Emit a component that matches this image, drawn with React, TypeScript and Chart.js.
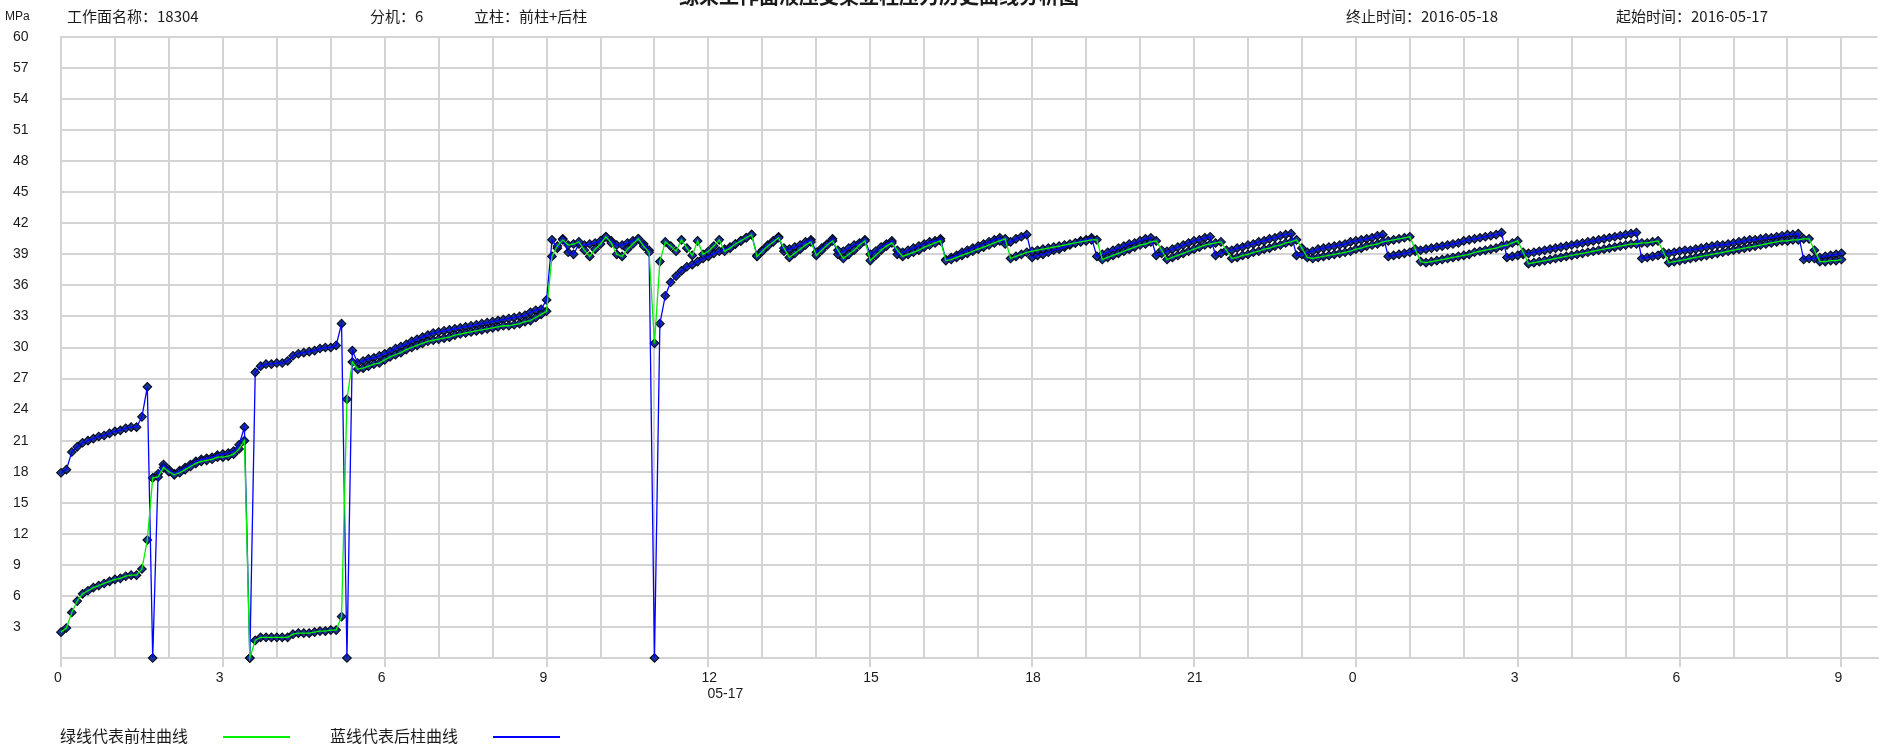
import React, { useEffect, useRef } from 'react';
import { Chart, registerables } from 'chart.js';

Chart.register(...registerables);

// sampling of the readings (hours from 0:00 on 05-17)
const SAMPLE_START_H = 0;
const SAMPLE_STEP_H = 0.1;
const X_MIN_H = 0;
const X_MAX_H = 33.67;

// 后柱 (blue) pressure, MPa, one value per sample
const REAR_MPA = [
  17.9, 18.2, 19.9, 20.4, 20.8, 21.0, 21.2, 21.4, 21.5, 21.7,
  21.9, 22.0, 22.2, 22.3, 22.3, 23.3, 26.2, 0, 17.8, 18.7,
  18.2, 17.8, 18.1, 18.4, 18.7, 19.0, 19.2, 19.3, 19.4, 19.6,
  19.7, 19.8, 20.0, 20.6, 22.3, 0, 27.6, 28.2, 28.4, 28.4,
  28.5, 28.5, 28.7, 29.2, 29.4, 29.5, 29.6, 29.7, 29.9, 30.0,
  30.0, 30.2, 32.3, 0, 29.7, 28.5, 28.7, 28.9, 29.0, 29.2,
  29.4, 29.6, 29.9, 30.1, 30.3, 30.6, 30.8, 31.0, 31.2, 31.4,
  31.5, 31.6, 31.7, 31.8, 31.9, 32.0, 32.1, 32.2, 32.3, 32.4,
  32.5, 32.6, 32.7, 32.8, 32.9, 33.0, 33.1, 33.4, 33.6, 33.7,
  34.6, 40.4, 39.6, 40.5, 39.2, 39.0, 40.0, 39.9, 40.0, 40.1,
  40.3, 40.7, 40.3, 39.9, 39.9, 40.1, 40.3, 40.5, 40.0, 39.4,
  0, 32.3, 35.0, 36.3, 36.9, 37.4, 37.8, 38.0, 38.3, 38.6,
  38.8, 39.1, 39.3, 39.5, 39.7, 40.0, 40.3, 40.6, 40.9, 38.9,
  39.4, 39.9, 40.3, 40.7, 39.3, 39.5, 39.7, 39.9, 40.2, 40.4,
  39.2, 39.6, 40.0, 40.5, 39.0, 39.3, 39.6, 39.9, 40.1, 40.4,
  39.0, 39.3, 39.7, 40.0, 40.3, 39.0, 39.2, 39.4, 39.6, 39.8,
  40.0, 40.2, 40.3, 40.5, 38.5, 38.7, 38.9, 39.2, 39.4, 39.6,
  39.8, 40.0, 40.2, 40.4, 40.6, 40.0, 40.2, 40.5, 40.7, 40.9,
  38.7, 38.9, 39.0, 39.2, 39.4, 39.5, 39.7, 39.9, 40.1, 40.3,
  40.4, 40.6, 38.8, 39.0, 39.2, 39.4, 39.6, 39.8, 40.0, 40.1,
  40.3, 40.5, 40.6, 38.9, 39.1, 39.3, 39.5, 39.7, 39.9, 40.1,
  40.3, 40.4, 40.6, 40.7, 38.9, 39.1, 39.3, 39.4, 39.6, 39.7,
  39.9, 40.0, 40.2, 40.3, 40.5, 40.6, 40.8, 40.9, 41.0, 38.9,
  39.0, 39.2, 39.3, 39.5, 39.6, 39.7, 39.8, 39.9, 40.0, 40.2,
  40.3, 40.4, 40.5, 40.6, 40.8, 40.9, 38.8, 38.9, 39.0, 39.1,
  39.2, 39.3, 39.4, 39.5, 39.6, 39.7, 39.8, 39.9, 40.0, 40.1,
  40.3, 40.4, 40.5, 40.6, 40.7, 40.8, 40.9, 41.1, 38.7, 38.8,
  38.9, 39.0, 39.1, 39.2, 39.3, 39.4, 39.5, 39.6, 39.7, 39.8,
  39.9, 40.0, 40.1, 40.2, 40.3, 40.4, 40.5, 40.6, 40.7, 40.8,
  40.9, 41.0, 41.1, 38.6, 38.7, 38.8, 38.9, 39.0, 39.1, 39.2,
  39.3, 39.4, 39.4, 39.5, 39.6, 39.7, 39.8, 39.9, 39.9, 40.0,
  40.1, 40.2, 40.3, 40.4, 40.4, 40.5, 40.6, 40.6, 40.7, 40.8,
  40.9, 40.9, 41.0, 38.5, 38.6, 38.6, 38.7, 38.8, 38.9, 39.0,
  39.1,
];

// 前柱 (green) pressure, MPa, one value per sample
const FRONT_MPA = [
  2.5, 2.9, 4.4, 5.5, 6.2, 6.5, 6.8, 7.0, 7.2, 7.4,
  7.6, 7.7, 7.9, 8.0, 8.0, 8.6, 11.4, 17.4, 17.5, 18.4,
  18.0, 17.7, 17.9, 18.2, 18.5, 18.8, 19.0, 19.1, 19.2, 19.4,
  19.4, 19.5, 19.7, 20.2, 21.0, 0, 1.7, 2.0, 2.0, 2.0,
  2.0, 2.0, 2.0, 2.3, 2.4, 2.4, 2.4, 2.5, 2.6, 2.6,
  2.7, 2.7, 4.0, 25.0, 28.6, 27.9, 28.0, 28.2, 28.4, 28.5,
  28.8, 29.1, 29.3, 29.5, 29.8, 30.0, 30.2, 30.4, 30.6, 30.7,
  30.8, 30.9, 31.0, 31.2, 31.3, 31.4, 31.5, 31.6, 31.7, 31.8,
  31.9, 32.0, 32.1, 32.1, 32.2, 32.3, 32.5, 32.6, 32.9, 33.2,
  33.5, 38.8, 39.8, 40.4, 39.9, 40.0, 40.2, 39.4, 38.8, 39.5,
  40.0, 40.7, 40.1, 39.0, 38.8, 39.5, 40.0, 40.5, 39.8, 39.2,
  30.4, 38.3, 40.2, 39.8, 39.3, 40.4, 39.6, 38.9, 40.3, 39.0,
  39.3, 39.8, 40.4, 39.3, 39.6, 40.0, 40.3, 40.6, 40.9, 38.8,
  39.3, 39.8, 40.2, 40.6, 39.6, 38.7, 39.1, 39.5, 39.9, 40.2,
  38.9, 39.4, 39.9, 40.3, 39.4, 38.6, 39.0, 39.4, 39.9, 40.3,
  38.4, 38.9, 39.4, 39.8, 40.1, 39.4, 38.8, 39.0, 39.2, 39.4,
  39.7, 39.9, 40.1, 40.3, 38.4, 38.5, 38.7, 38.9, 39.1, 39.3,
  39.5, 39.7, 39.9, 40.1, 40.3, 40.5, 38.6, 38.8, 39.0, 39.2,
  39.3, 39.4, 39.5, 39.6, 39.7, 39.8, 39.9, 40.0, 40.1, 40.2,
  40.3, 40.4, 40.4, 38.5, 38.7, 38.9, 39.1, 39.3, 39.5, 39.7,
  39.9, 40.0, 40.2, 40.3, 39.4, 38.5, 38.7, 38.9, 39.1, 39.3,
  39.5, 39.7, 39.9, 40.0, 40.1, 40.2, 39.4, 38.6, 38.7, 38.9,
  39.0, 39.2, 39.3, 39.5, 39.6, 39.8, 39.9, 40.1, 40.2, 40.4,
  39.6, 38.7, 38.6, 38.7, 38.8, 38.9, 39.0, 39.1, 39.2, 39.3,
  39.5, 39.6, 39.8, 39.9, 40.0, 40.2, 40.3, 40.4, 40.5, 40.6,
  40.7, 39.5, 38.3, 38.2, 38.3, 38.4, 38.5, 38.6, 38.7, 38.8,
  38.9, 39.0, 39.2, 39.3, 39.4, 39.5, 39.6, 39.8, 39.9, 40.1,
  40.3, 39.2, 38.1, 38.2, 38.3, 38.4, 38.5, 38.6, 38.7, 38.8,
  38.9, 39.0, 39.1, 39.2, 39.3, 39.4, 39.5, 39.6, 39.7, 39.8,
  39.9, 40.0, 40.0, 40.1, 40.1, 40.2, 40.3, 39.2, 38.2, 38.3,
  38.4, 38.5, 38.6, 38.7, 38.8, 38.9, 39.0, 39.1, 39.2, 39.3,
  39.4, 39.5, 39.6, 39.7, 39.8, 39.9, 40.0, 40.1, 40.2, 40.3,
  40.3, 40.4, 40.4, 40.5, 40.5, 39.4, 38.3, 38.3, 38.4, 38.4,
  38.5,
];

const Y_MIN = 0;
const Y_MAX = 60;
const Y_STEP = 3;
const X_STEP_H = 1;
const X_LABEL_EVERY_H = 3;
const DATE_MARK_HOUR = 12;
const DATE_MARK_TEXT = '05-17';

const GRID = '#d4d4d4';
const TEXT = '#1a1a1a';
const TICK_FONT = { family: 'Liberation Sans', size: 14 };

const toPoints = (vals: number[]) =>
  vals.map((v, i) => ({ x: SAMPLE_START_H + i * SAMPLE_STEP_H, y: v }));

const isLabelHour = (v: number) => Math.abs(v - Math.round(v)) < 1e-6 && Math.round(v) % X_LABEL_EVERY_H === 0;

const dateMarkPlugin = {
  id: 'dateMark',
  afterDraw(chart: any) {
    const xs = chart.scales.x;
    const ctx = chart.ctx;
    ctx.save();
    ctx.font = '14px "Liberation Sans"';
    ctx.fillStyle = TEXT;
    ctx.textAlign = 'left';
    ctx.textBaseline = 'middle';
    ctx.fillText(DATE_MARK_TEXT, xs.getPixelForValue(DATE_MARK_HOUR) - 1, chart.chartArea.bottom + 36);
    ctx.restore();
  },
};

export default function App() {
  const canvasRef = useRef<HTMLCanvasElement | null>(null);

  useEffect(() => {
    if (!canvasRef.current) return;
    const front = toPoints(FRONT_MPA);
    const rear = toPoints(REAR_MPA);
    const pointStyle = {
      showLine: false,
      pointStyle: 'rectRot',
      pointRadius: 4.3,
      pointBackgroundColor: '#1b3597',
      pointBorderColor: '#050a1e',
      pointBorderWidth: 1.1,
      clip: false,
    };
    const chart = new Chart(canvasRef.current, {
      type: 'line',
      data: {
        datasets: [
          { label: '前柱曲线', data: front, borderColor: '#00f000', borderWidth: 1.3, pointRadius: 0, clip: false, tension: 0 },
          { label: '后柱曲线', data: rear, borderColor: '#0000ff', borderWidth: 1.3, pointRadius: 0, clip: false, tension: 0 },
          { label: '前柱测点', data: front, ...pointStyle },
          { label: '后柱测点', data: rear, ...pointStyle },
        ] as any,
      },
      options: {
        animation: false,
        responsive: false,
        maintainAspectRatio: false,
        devicePixelRatio: 1,
        events: [],
        layout: { padding: { left: 13, top: 37, right: 0, bottom: 0 } },
        plugins: { legend: { display: false }, tooltip: { enabled: false }, title: { display: false } },
        scales: {
          x: {
            type: 'linear',
            min: X_MIN_H,
            max: X_MAX_H,
            afterBuildTicks: (s: any) => {
              s.ticks = s.ticks.filter((t: any) => Math.abs(t.value - Math.round(t.value)) < 1e-6);
            },
            afterFit: (s: any) => { s.height = 88; },
            ticks: {
              stepSize: X_STEP_H,
              includeBounds: false,
              autoSkip: false,
              maxRotation: 0,
              align: 'start',
              labelOffset: -7,
              padding: 3,
              color: TEXT,
              font: TICK_FONT,
              callback: (value: any) => {
                const v = Number(value);
                return isLabelHour(v) ? String(Math.round(v) % 24) : '';
              },
            },
            grid: {
              color: GRID,
              lineWidth: 2,
              tickLength: 9,
              tickColor: (ctx: any) => (ctx.tick && isLabelHour(ctx.tick.value) ? GRID : 'rgba(0,0,0,0)'),
            },
            border: { color: GRID, width: 2 },
          },
          y: {
            min: Y_MIN,
            max: Y_MAX,
            afterFit: (s: any) => { s.width = 48; },
            ticks: {
              stepSize: Y_STEP,
              crossAlign: 'far',
              padding: 0,
              color: TEXT,
              font: TICK_FONT,
              callback: (value: any) => (Number(value) === 0 ? '' : String(value)),
            },
            grid: { color: GRID, lineWidth: 2, drawTicks: false },
            border: { color: GRID, width: 2 },
          },
        },
      } as any,
      plugins: [dateMarkPlugin],
    });
    return () => chart.destroy();
  }, []);

  const cjk = '"Noto Sans CJK SC", "Noto Sans", sans-serif';
  const head: React.CSSProperties = { position: 'absolute', top: 6, fontFamily: cjk, fontSize: 15, lineHeight: '20px', color: TEXT, whiteSpace: 'nowrap' };
  const leg: React.CSSProperties = { position: 'absolute', top: 725, fontFamily: cjk, fontSize: 16, lineHeight: '20px', color: TEXT, whiteSpace: 'nowrap' };

  return (
    <div style={{ position: 'absolute', left: 0, top: 0, width: 1883, height: 746, overflow: 'hidden', background: '#fff' }}>
      <canvas ref={canvasRef} width={1883} height={746} style={{ position: 'absolute', left: 0, top: 0, width: 1883, height: 746 }} />
      <div style={{ position: 'absolute', left: 679, top: -14, fontFamily: cjk, fontSize: 20, fontWeight: 700, lineHeight: '20px', color: TEXT, whiteSpace: 'nowrap' }}>
        综采工作面液压支架立柱压力历史曲线分析图
      </div>
      <div style={{ position: 'absolute', left: 5, top: 8, fontFamily: 'Liberation Sans', fontSize: 12, lineHeight: '16px', color: TEXT }}>MPa</div>
      <div style={{ ...head, left: 67 }}>工作面名称：18304</div>
      <div style={{ ...head, left: 370 }}>分机：6</div>
      <div style={{ ...head, left: 474 }}>立柱：前柱+后柱</div>
      <div style={{ ...head, left: 1346 }}>终止时间：2016-05-18</div>
      <div style={{ ...head, left: 1616 }}>起始时间：2016-05-17</div>
      <div style={{ ...leg, left: 60 }}>绿线代表前柱曲线</div>
      <div style={{ position: 'absolute', left: 223, top: 736, width: 67, height: 2, background: '#00f000' }} />
      <div style={{ ...leg, left: 330 }}>蓝线代表后柱曲线</div>
      <div style={{ position: 'absolute', left: 493, top: 736, width: 67, height: 2, background: '#0000ff' }} />
    </div>
  );
}
